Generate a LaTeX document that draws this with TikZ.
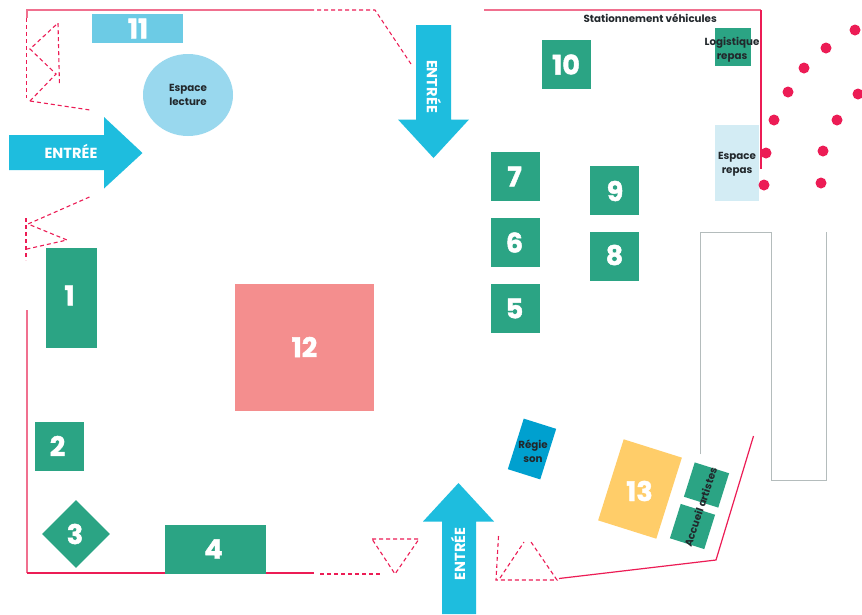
\documentclass[tikz,border=0pt]{standalone}
\usepackage{fontspec}
\setmainfont{Poppins}
\newfontfamily\grasfort{Poppins}[UprightFont={* Bold},FakeBold=1.6]
\definecolor{vert}{HTML}{2BA484}
\definecolor{saumon}{HTML}{F48E8E}
\definecolor{bleuA}{HTML}{6CCBE5}
\definecolor{bleuB}{HTML}{99D8EE}
\definecolor{fleche}{HTML}{1EBDDE}
\definecolor{jaune}{HTML}{FFCD69}
\definecolor{regie}{HTML}{00A0CF}
\definecolor{pale}{HTML}{D3ECF4}
\definecolor{rose}{HTML}{EC1C55}
\definecolor{roseclair}{HTML}{F0708F}
\definecolor{gris}{HTML}{B4BCBC}
\definecolor{encre}{HTML}{22282C}
\usetikzlibrary{shapes.geometric}
\tikzset{
  zone/.style={draw=none,inner sep=0pt,align=center},
  stand/.style={zone,fill=vert},
  chiffre/.style={inner sep=0pt,text=white,font=\fontsize{27}{27}\selectfont\grasfort},
  petit/.style={inner sep=0pt,align=center,text=encre,font=\fontsize{10.3}{14}\selectfont\bfseries},
  mur/.style={draw=rose,line width=1.2pt},
  murclair/.style={draw=roseclair,line width=1.5pt},
  pointille/.style={draw=rose,line width=1.1pt,dash pattern=on 4pt off 3pt},
  arbre/.style={circle,fill=rose,minimum size=11pt,inner sep=0pt},
  entree/.style={fill=fleche,draw=none},
  lblent/.style={text=white,inner sep=0pt,font=\fontsize{14.6}{15}\selectfont\bfseries},
}
\begin{document}
\begin{tikzpicture}[x=1pt,y=-1pt]
\useasboundingbox (0,0) rectangle (862,614);
\fill[white] (0,0) rectangle (862,614);
% parking
\draw[gris,line width=.9pt] (700,454) -- (700,232) -- (771,232) -- (771,480) -- (826,480) -- (826,232);
% walls
\draw[murclair] (310,10) -- (27,10) -- (27,18);
\draw[murclair] (27,310) -- (27,573);
\draw[mur] (27,573) -- (314,573);
\draw[murclair] (484,10) -- (761,10);
\draw[mur] (761,10) -- (761,169);
\draw[mur] (559,578.5) -- (716,560) -- (753.5,436);
% dashed
\draw[pointille] (26.5,18) -- (26.5,98);
\draw[pointille] (30,101) -- (56,74) -- (30,49) -- (58,23) -- (59.5,86);
\draw[pointille] (30,101) -- (90,110);
\draw[pointille] (89.5,197) -- (28,224) -- (67,240) -- (27,249);
\draw[pointille] (26,218) -- (26,260);
\draw[pointille] (310,10) -- (375,10) -- (411,64);
\draw[pointille] (320,574) -- (382,574);
\draw[pointille] (372,539) -- (419,539) -- (395,574) -- cycle;
\draw[pointille] (498.5,536) -- (496,580) -- (557,580) -- (531,542);
\draw[pointille] (500,578) -- (524,542);
% stands
\node[zone,fill=bleuA,minimum width=91pt,minimum height=29pt] (b11) at (137.5,28.5) {};
\node[chiffre] (n11) at (138,28.5) {11};
\node[zone,ellipse,fill=bleuB,minimum width=90pt,minimum height=82pt,petit] (lect) at (188,95) {Espace\\lecture};
\node[stand,minimum size=49pt] (b10) at (566.5,64.5) {};
\node[chiffre] (n10) at (566,64.5) {10};
\node[stand,minimum width=36pt,minimum height=38pt] (logi) at (733,47) {};
\node[zone,fill=pale,minimum width=44pt,minimum height=76pt] (repas) at (737,163) {};
\node[petit] (repast) at (737,164) {Espace\\repas};
\node[petit] (logit) at (732,50) {Logistique\\repas};
\node[petit,anchor=east] (stat) at (717,18.5) {Stationnement véhicules};
\node[stand,minimum size=49pt] (b7) at (515.5,176.5) {};
\node[chiffre] (n7) at (514.5,176.5) {7};
\node[stand,minimum size=49pt] (b6) at (515.5,242.5) {};
\node[chiffre] (n6) at (514.5,242.5) {6};
\node[stand,minimum size=49pt] (b5) at (515.5,308.5) {};
\node[chiffre] (n5) at (514.5,308.5) {5};
\node[stand,minimum size=49pt] (b9) at (614.5,190.5) {};
\node[chiffre] (n9) at (615,191) {9};
\node[stand,minimum size=49pt] (b8) at (614.5,256.5) {};
\node[chiffre] (n8) at (614.5,255) {8};
\node[stand,minimum width=51pt,minimum height=100pt] (b1) at (71.5,298) {};
\node[chiffre] (n1) at (69.5,295.5) {1};
\node[zone,fill=saumon,minimum width=139pt,minimum height=127pt] (b12) at (304.5,347.5) {};
\node[chiffre] (n12) at (304.5,347) {12};
\node[stand,minimum size=49pt] (b2) at (59.5,446.5) {};
\node[chiffre] (n2) at (57.5,446) {2};
\node[stand,diamond,aspect=1,minimum size=68pt] (b3) at (76,534) {};
\node[chiffre] (n3) at (75,534) {3};
\node[stand,minimum width=101pt,minimum height=49pt] (b4) at (215.5,549.5) {};
\node[chiffre] (n4) at (213.5,549) {4};
\node[zone,fill=regie,rotate=-17.5,minimum width=34pt,minimum height=53pt] (reg) at (532,449) {};
\node[petit] (regt) at (533,451) {Régie\\son};
\node[zone,fill=jaune,rotate=-17.5,minimum width=61pt,minimum height=85pt] (b13) at (640,489) {};
\node[chiffre] (n13) at (639.5,491) {13};
\node[stand,rotate=-17.5,minimum width=36pt,minimum height=36pt] (ac1) at (706.5,485) {};
\node[stand,rotate=-17.5,minimum width=36pt,minimum height=36pt] (ac2) at (692.5,526.5) {};
\node[petit,rotate=71.5] (act) at (700.5,507) {Accueil artistes};
% arrows
\fill[entree] (9,135) -- (104,135) -- (104,117) -- (142.5,153) -- (104,188.5) -- (104,170) -- (9,170) -- cycle;
\node[lblent] (e1) at (71,151) {ENTRÉE};
\fill[entree] (416,25) -- (451,25) -- (451,119.5) -- (469,119.5) -- (433.5,158) -- (398,119.5) -- (416,119.5) -- cycle;
\node[lblent,rotate=-90] (e2) at (434,86.5) {ENTRÉE};
\fill[entree] (442,614) -- (476,614) -- (476,521.5) -- (494,521.5) -- (458.5,483) -- (423,521.5) -- (442,521.5) -- cycle;
\node[lblent,rotate=90] (e3) at (458,554) {ENTRÉE};
% dots
\foreach \i/\p in {a/{855,30},b/{826,48},c/{804,68},d/{788,92},e/{858,94},f/{774,120},g/{837,120},h/{766,153},i/{823,151},j/{764,185},k/{821,183}}
  \node[arbre] (t\i) at (\p) {};
\end{tikzpicture}
\end{document}
